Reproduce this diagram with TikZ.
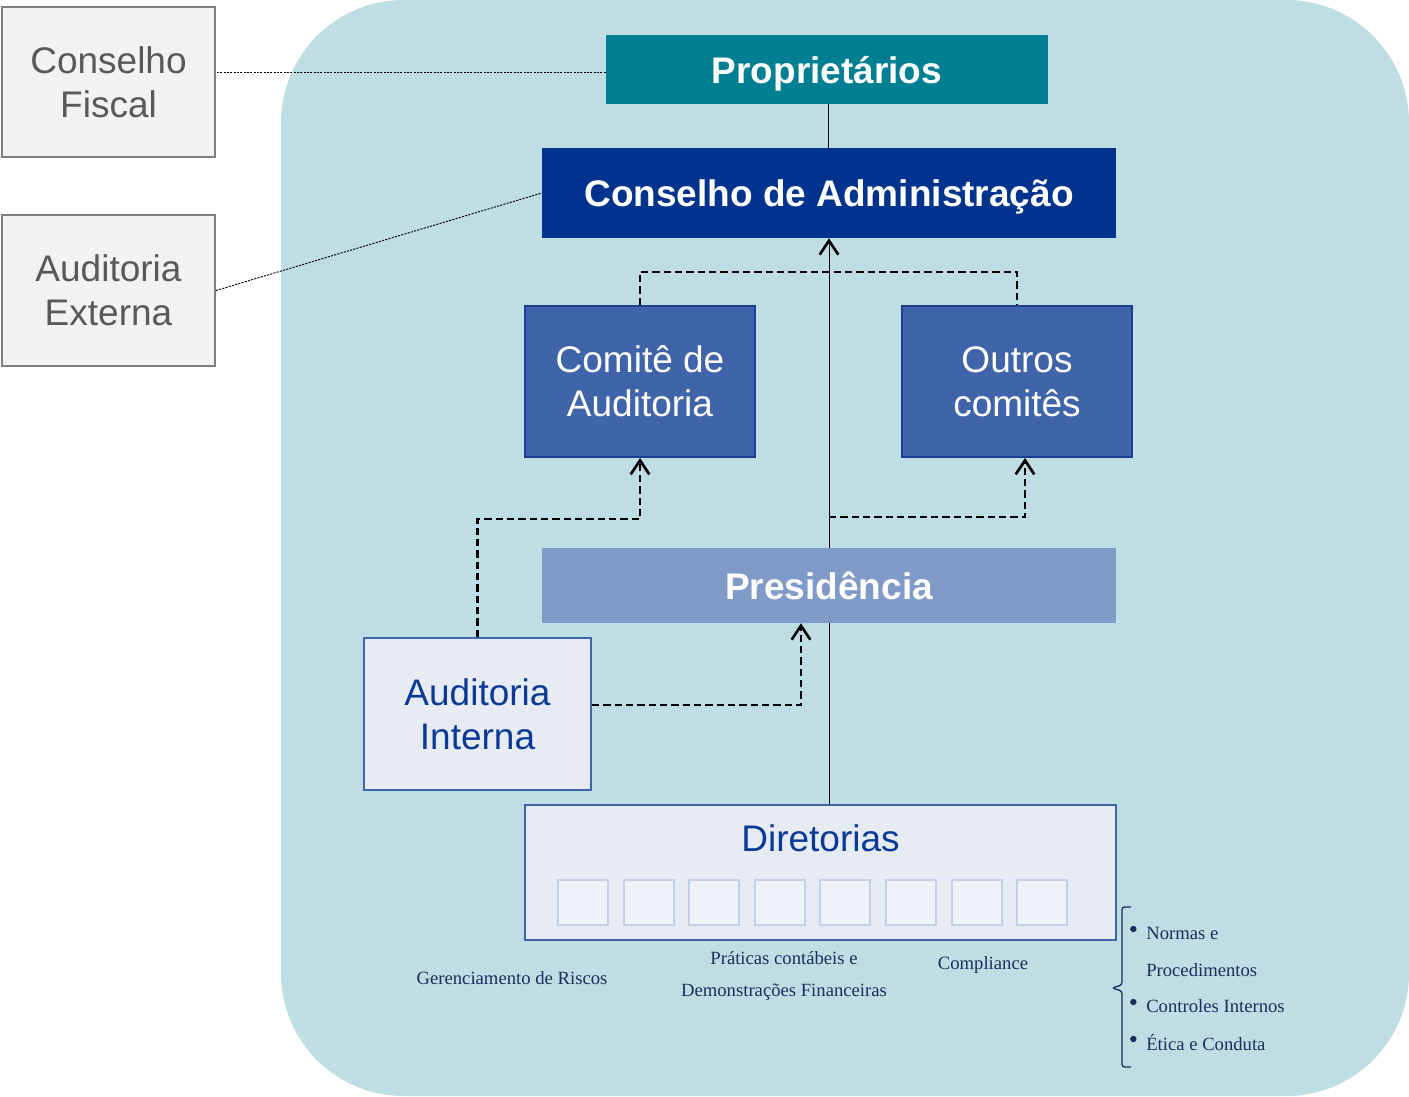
\documentclass[tikz,border=0pt]{standalone}
\usepackage{fontspec}
\setmainfont{Liberation Sans}
\newfontfamily\serifx{Liberation Serif}
\usetikzlibrary{arrows.meta}
\definecolor{bgblue}{HTML}{BFDEE3}
\definecolor{teal}{HTML}{007E92}
\definecolor{darkblue}{HTML}{00338D}
\definecolor{midblue}{HTML}{4064AA}
\definecolor{midborder}{HTML}{1C3F94}
\definecolor{lightblue}{HTML}{819BC8}
\definecolor{paleblue}{HTML}{E6EBF4}
\definecolor{smallfill}{HTML}{EFF2F8}
\definecolor{smallborder}{HTML}{C3D0E6}
\definecolor{navytext}{HTML}{0B3A96}
\definecolor{labeltext}{HTML}{1B2F5E}
\definecolor{greyfill}{HTML}{F2F2F2}
\definecolor{greyborder}{HTML}{7F7F7F}
\definecolor{greytext}{HTML}{595959}
\begin{document}
\begin{tikzpicture}[x=0.75pt,y=-0.75pt,
  bigfont/.style={font=\fontsize{27.75}{33}\selectfont},
  boldfont/.style={font=\fontsize{27.75}{33}\selectfont\bfseries},
  greybox/.style={bigfont,draw=greyborder,line width=1.5pt,fill=greyfill,text=greytext,align=center,inner sep=0pt,minimum width=159.75pt,minimum height=112.8pt},
  topbox/.style={boldfont,fill=teal,text=white,inner sep=0pt,text depth=0pt,minimum width=331.5pt,minimum height=51.75pt},
  boardbox/.style={boldfont,fill=darkblue,text=white,inner sep=0pt,text depth=0pt,minimum width=430.5pt,minimum height=67.5pt},
  combox/.style={bigfont,fill=midblue,draw=midborder,line width=1.5pt,text=white,align=center,inner sep=0pt,minimum width=172.5pt,minimum height=113.25pt},
  presbox/.style={boldfont,fill=lightblue,text=white,inner sep=0pt,minimum width=430.5pt,minimum height=56.25pt},
  palebox/.style={bigfont,fill=paleblue,draw=midblue,line width=1.5pt,text=navytext,align=center,inner sep=0pt},
  smallbox/.style={fill=smallfill,draw=smallborder,line width=1.5pt,inner sep=0pt,minimum width=37.5pt,minimum height=33.75pt},
  lbl/.style={font=\serifx\fontsize{14}{24}\selectfont,text=labeltext,align=center,inner sep=0pt},
  dotline/.style={line width=0.7pt,dash pattern=on 1.6pt off 0.9pt},
  dashline/.style={line width=2.2pt,dash pattern=on 5.5pt off 3pt},
  solidline/.style={line width=0.75pt},
  >={Straight Barb[length=10.5pt,width=14pt,line width=2pt]}
]
\useasboundingbox (0,0) rectangle (1409,1096);
\fill[bgblue,rounded corners=92pt] (281,0) rectangle (1409,1096);

% nodes
\node[greybox] (fiscal) at (108.5,82) {Conselho\\Fiscal};
\node[greybox] (externa) at (108.5,290.5) {Auditoria\\Externa};
\node[topbox] (prop) at (827,69.5) {Propriet\'arios};
\node[boardbox] (cons) at (829,193) {Conselho de Administra\c{c}\~ao};
\node[combox] (comA) at (640,381.5) {Comit\^e de\\Auditoria};
\node[combox] (outros) at (1017,381.5) {Outros\\comit\^es};
\node[presbox] (pres) at (829,585.5) {Presid\^encia};
\node[palebox,minimum width=170.25pt,minimum height=114pt] (audint) at (477.5,714) {Auditoria\\Interna};
\node[palebox,minimum width=443.25pt,minimum height=101.25pt] (dir) at (820.5,872.5) {};
\node[bigfont,text=navytext,inner sep=0pt] (dirlabel) at (820.5,838) {Diretorias};
\foreach \i in {0,...,7} {
  \node[smallbox] (sb\i) at (583+65.6*\i,902.5) {};
}

% labels
\node[lbl] (riscos) at (512,978) {Gerenciamento de Riscos};
\node[lbl] (praticas) at (784,976) {Pr\'aticas cont\'abeis e\\Demonstra\c{c}\~oes Financeiras};
\node[lbl] (compl) at (983,965) {Compliance};
\node[lbl,anchor=west] (l1) at (1146,933) {Normas e};
\node[lbl,anchor=west] (l2) at (1146,970) {Procedimentos};
\node[lbl,anchor=west] (l3) at (1146,1006) {Controles Internos};
\node[lbl,anchor=west] (l4) at (1146,1043) {\'Etica e Conduta};
\foreach \n in {l1,l3,l4} {
  \fill[labeltext] ([xshift=-9.5pt,yshift=3pt]\n.west) circle (2.4pt);
}
\coordinate (brtop) at (1131,907);
\coordinate (brmid) at (1112,988);
\coordinate (brbot) at (1131,1067);
\draw[labeltext,line width=1pt,rounded corners=2pt]
  (brtop) -- (1122,907) -- (1122,985) -- (brmid) -- (1122,991) -- (1122,1067) -- (brbot);

% connectors
\draw[dotline] ([yshift=-1.9pt]prop.west) -- ([yshift=-1.9pt]prop.west -| fiscal.east);
\draw[dotline] (externa.east) -- (cons.west);
\draw[solidline] (prop.south -| 828,0) -- (cons.north -| 828,0);
\draw[solidline] (pres.south) -- (pres.south |- dir.north);
\draw[solidline,->] (pres.north) -- (cons.south);
\coordinate (jtop) at (829,272);
\coordinate (jright) at (829,517);
\draw[dashline] (comA.north) |- (jtop) -| (outros.north);
\draw[dashline,->] (jright) -| ([xshift=6pt]outros.south);
\draw[dashline,->] (audint.north) -- ++(0,-118) -| (comA.south);
\draw[dashline,->] ([yshift=6.75pt]audint.east) -| ([xshift=-21pt]pres.south);
\end{tikzpicture}
\end{document}
